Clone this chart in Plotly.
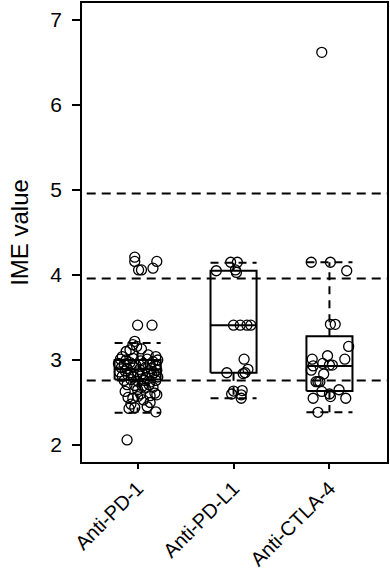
import plotly.graph_objects as go

# ---------------- data ----------------
categories = ["Anti-PD-1", "Anti-PD-L1", "Anti-CTLA-4"]
y_ticks = [2, 3, 4, 5, 6, 7]
ref_lines = [4.96, 3.96, 2.76]

q1 = [2.77, 2.85, 2.635]
median = [2.89, 3.41, 2.93]
q3 = [3.00, 4.05, 3.28]
whisk_lo = [2.38, 2.55, 2.385]
whisk_hi = [3.20, 4.145, 4.15]

pd1_values = [
    4.21, 4.16, 4.16, 4.08, 4.06, 4.06,
    3.41, 3.41,
    3.22, 3.18, 3.16, 3.10, 3.04, 3.12, 3.13, 3.06, 3.04,
    3.01, 3.00, 3.02, 2.99, 3.01, 2.98, 3.00,
    2.96, 2.95, 2.97, 2.94, 2.96, 2.95, 2.93,
    2.91, 2.90, 2.92, 2.89, 2.91, 2.90, 2.88,
    2.86, 2.87, 2.85, 2.86, 2.84, 2.86, 2.85,
    2.81, 2.82, 2.80, 2.81, 2.79, 2.82, 2.80,
    2.76, 2.77, 2.75, 2.76, 2.74, 2.76,
    2.71, 2.70, 2.69, 2.71, 2.68,
    2.63, 2.65, 2.67, 2.61, 2.59, 2.56, 2.57, 2.53, 2.50,
    2.43, 2.44, 2.45, 2.39, 2.06, 2.60, 2.55, 2.58, 2.48,
]
pd1_jitter = [
    -0.03, -0.03, 0.20, 0.16, 0.01, 0.04,
    0.00, 0.15,
    -0.03, -0.05, -0.01, -0.12, -0.16, -0.08, 0.04, 0.11, 0.19,
    -0.18, -0.12, -0.05, 0.03, 0.10, 0.16, 0.21,
    -0.20, -0.14, -0.08, -0.02, 0.06, 0.13, 0.19,
    -0.17, -0.11, -0.04, 0.02, 0.08, 0.14, 0.20,
    -0.19, -0.13, -0.07, 0.00, 0.05, 0.11, 0.17,
    -0.16, -0.10, -0.04, 0.03, 0.09, 0.15, 0.21,
    -0.14, -0.07, 0.00, 0.07, 0.13, 0.19,
    -0.11, -0.03, 0.05, 0.12, 0.16,
    -0.13, 0.00, 0.08, 0.18, 0.20, -0.10, 0.00, 0.06, 0.13,
    -0.09, -0.03, 0.10, 0.19, -0.11, 0.03, -0.05, 0.13, -0.07,
]

pdl1_values = [
    4.15, 4.15, 4.06, 4.03, 4.05,
    3.41, 3.41, 3.41, 3.41,
    3.01, 2.89, 2.85, 2.85, 2.84,
    2.635, 2.64, 2.59, 2.55, 2.60,
]
pdl1_jitter = [
    -0.03, 0.04, 0.02, 0.03, -0.18,
    0.00, 0.07, 0.14, 0.18,
    0.11, 0.15, 0.12, -0.07, 0.10,
    0.00, 0.09, 0.08, 0.08, -0.02,
]

ctla4_values = [
    4.15, 4.15, 4.05, 3.42, 3.42, 3.16, 3.01, 3.05, 3.01,
    2.93, 2.96, 2.94, 2.94, 2.88, 2.835, 2.745, 2.745, 2.745,
    2.63, 2.60, 2.57, 2.65, 2.55, 2.55, 2.385, 6.62,
]
ctla4_jitter = [
    -0.19, 0.01, 0.18, 0.01, 0.06, 0.20, -0.18, -0.02, 0.16,
    -0.17, -0.07, 0.00, 0.03, -0.19, -0.06, -0.14, -0.12, -0.10,
    -0.08, 0.00, 0.01, 0.10, -0.17, 0.17, -0.12, -0.08,
]

# ---------------- figure ----------------
FONT = "Liberation Sans, Arial, sans-serif"
half = 0.24
fig = go.Figure()

# reference dashed lines
for r in ref_lines:
    fig.add_trace(go.Scatter(x=[0.0, 4.0], y=[r, r], mode="lines",
                             line=dict(color="black", width=2, dash="9px,6px"),
                             hoverinfo="skip", showlegend=False))

# box plots drawn R-style
for i in range(len(categories)):
    c = i + 1
    bx = [c - half, c + half, c + half, c - half, c - half, None,
          c - half, c + half]
    by = [q1[i], q1[i], q3[i], q3[i], q1[i], None, median[i], median[i]]
    fig.add_trace(go.Scatter(x=bx, y=by, mode="lines",
                             line=dict(color="black", width=2),
                             hoverinfo="skip", showlegend=False))
    wx = [c, c, None, c, c, None, c - half, c + half, None, c - half, c + half]
    wy = [q3[i], whisk_hi[i], None, q1[i], whisk_lo[i], None,
          whisk_hi[i], whisk_hi[i], None, whisk_lo[i], whisk_lo[i]]
    fig.add_trace(go.Scatter(x=wx, y=wy, mode="lines",
                             line=dict(color="black", width=2, dash="8px,6px"),
                             hoverinfo="skip", showlegend=False))

# jittered points
groups = [(pd1_values, pd1_jitter), (pdl1_values, pdl1_jitter), (ctla4_values, ctla4_jitter)]
for i, (vals, jit) in enumerate(groups):
    fig.add_trace(go.Scatter(
        x=[i + 1 + j for j in jit], y=vals, mode="markers",
        marker=dict(symbol="circle-open", size=10, color="black",
                    line=dict(width=1.3, color="black")),
        name=categories[i], showlegend=False))

fig.update_layout(
    width=390, height=573,
    margin=dict(l=82, r=3, t=3, b=111, autoexpand=False),
    paper_bgcolor="white", plot_bgcolor="white",
    font=dict(family=FONT, color="black"),
    showlegend=False,
)
fig.update_xaxes(
    range=[0.42, 3.6], tickmode="array", tickvals=[1, 2, 3], ticktext=categories,
    tickangle=-45, tickfont=dict(size=20, family=FONT),
    ticks="outside", ticklen=5, tickwidth=1.5, tickcolor="black",
    showline=True, linecolor="black", linewidth=1.5, mirror=True,
    showgrid=False, zeroline=False, automargin=False,
)
fig.update_yaxes(
    range=[1.8, 7.2], tickmode="array", tickvals=y_ticks,
    tickfont=dict(size=21, family=FONT),
    ticks="outside", ticklen=8, tickwidth=1.5, tickcolor="black",
    ticklabelstandoff=6,
    showline=True, linecolor="black", linewidth=1.5, mirror=True,
    showgrid=False, zeroline=False, automargin=False,
    title=dict(text="IME value", font=dict(size=24, family=FONT), standoff=15),
)

fig.write_html(
    "out.html",
    config={"displayModeBar": False},
    post_script="document.body.style.margin='0';document.body.style.overflow='hidden';",
)
